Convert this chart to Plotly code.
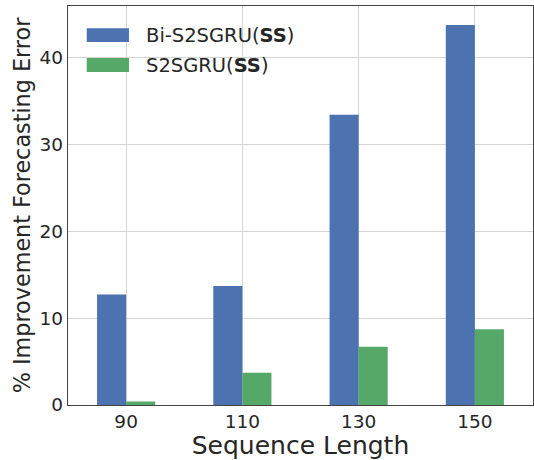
import plotly.graph_objects as go

categories = ["90", "110", "130", "150"]
bi_s2sgru = [12.7, 13.7, 33.4, 43.7]
s2sgru = [0.4, 3.7, 6.7, 8.7]
series_names = ["Bi-S2SGRU(<b>SS</b>)", "S2SGRU(<b>SS</b>)"]
colors = ["#4C72B0", "#55A868"]
y_ticks = [0, 10, 20, 30, 40]

FONT = "DejaVu Sans"
TXT = "#262626"

fig = go.Figure()
for name, vals, col in zip(series_names, [bi_s2sgru, s2sgru], colors):
    fig.add_trace(go.Bar(x=categories, y=vals, name=name, marker=dict(color=col, line=dict(width=0)),
                         showlegend=False))

# custom legend (matplotlib-style wide patches)
leg_y = [0.927, 0.852]
for name, col, yy in zip(series_names, colors, leg_y):
    fig.add_shape(type="rect", xref="paper", yref="paper",
                  x0=0.0403, x1=0.1311, y0=yy - 0.0175, y1=yy + 0.0175,
                  fillcolor=col, line=dict(width=0))
    fig.add_annotation(xref="paper", yref="paper", x=0.163, y=yy, text=name,
                       showarrow=False, xanchor="left", yanchor="middle",
                       font=dict(family=FONT, size=19.5, color=TXT))

fig.update_layout(
    width=534, height=460,
    margin=dict(l=68, r=1, t=6, b=55),
    paper_bgcolor="white", plot_bgcolor="white",
    barmode="group", bargap=0.5, bargroupgap=0,
    font=dict(family=FONT, color=TXT),
)
fig.update_xaxes(
    automargin=False,
    showgrid=True, gridcolor="#d5d5d5", gridwidth=1,
    showline=True, linecolor="#444444", linewidth=1.3, mirror=True,
    ticks="", tickfont=dict(size=18.5, color=TXT),
    title=dict(text="Sequence Length", font=dict(size=25, color=TXT), standoff=3),
)
fig.update_yaxes(
    automargin=False,
    range=[0, 45.9], tickvals=y_ticks,
    showgrid=True, gridcolor="#d5d5d5", gridwidth=1, zeroline=False,
    showline=True, linecolor="#444444", linewidth=1.3, mirror=True,
    ticks="", tickfont=dict(size=18.5, color=TXT),
    title=dict(text="% Improvement Forecasting Error", font=dict(size=22.3, color=TXT), standoff=2),
)

fig.write_html(
    "out.html",
    config={"displayModeBar": False},
    post_script="document.documentElement.style.margin='0';document.body.style.margin='0';"
                "document.body.style.overflow='hidden';document.documentElement.style.overflow='hidden';",
)
